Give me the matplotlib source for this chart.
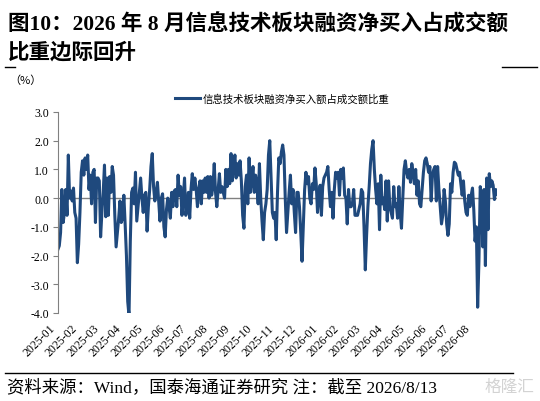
import numpy as np
import matplotlib
matplotlib.use("Agg")
import matplotlib.pyplot as plt
from matplotlib.lines import Line2D

# 信息技术板块融资净买入额占成交额比重 (%)
ratio_2025a = [
    -1.78, -1.66, -1.2, 0.3, -0.85, -0.5, 0.3, -0.6, 1.5, 0.0, 0.25, -0.1, 0.35, -0.5, -0.7,
    -2.25, -1.6, -0.5, 0.9, 1.3, 0.8, 1.4, 1.0, 1.5, 0.3, 0.8, -0.2, 0.9, 1.0, -0.85, 0.7,
    0.7, 0.6, -1.35, -0.5, 0.2, 1.15, -0.65, 0.7, -0.6, 0.75, 0.2, 1.1, 0.8, -0.6, -1.7,
    -1.2, -0.7, -0.1, -0.85, -0.7, 0.1, -0.9, -2.0, -3.6, -4.1, -1.5, 0.2, 0.35, -0.2, 0.9,
    -0.8, -0.3, 0.2, 0.7, 0.0, -0.5, 0.1, 0.2, -1.15, -0.3, 0.3, 1.1, 1.55, 0.4, -0.1, 0.2,
    0.55, -0.1, -0.8, 0.0, 0.15, -1.0, -1.35, -0.4, 0.0, -0.3, -0.7, 0.2, -0.3, 0.25, 0.3,
    -0.3, 0.8, 0.1, 0.4, -0.6, 0.0, 0.7, -0.6, -0.3, 0.2, -0.7, 0.3, 0.85, 0.3, 0.7, 0.3,
    -0.3, 0.3, 0.6, -0.2, 0.6, 0.2, 0.7, 0.2, 0.75, 0.0, 0.75, 0.1, 0.4, 1.2, 0.2, -0.3,
    0.3, 0.85, 0.2, 0.4, 0.2, 0.0, 1.0, 0.4, 1.0, 0.5, 1.55, 0.6, 1.1, 1.5, 0.7, 1.2, 0.8,
    1.3, 0.6, -0.6, -1.05, 0.4, 0.8, -0.2, 1.4, 0.2, 0.6, 1.1, 0.2, 0.8, 0.5, -0.2, 1.2,
    0.0, -0.8, -1.45, -0.5, -0.2, 0.3, 1.5, 2.0, 0.8, -0.5, -0.7,
]
ratio_2025b = [
    -0.5, -1.45, 0.2, 1.4, 1.2, 1.6, 1.85, 1.5, 0.0, -1.2, -0.5, 0.2, 0.8, -0.2, 0.3, -0.5,
    -1.2, 0.2, 0.2, -0.3, -1.2, -2.2, -1.0, 0.3, 0.9, 0.5, 0.75, 0.0, -0.2, 0.5, 0.3, 1.05,
    0.5, -0.5, 0.1, 0.45, -0.6, 0.4, 0.7, 0.8, 0.9, 1.1, 0.3, -0.3, 0.2, -0.7, 0.3, 0.9,
    0.7, 0.9, 0.1, 1.0, 0.7, 1.05, 0.1, 0.0, -0.9, 0.3, -0.3, -0.3, -0.2, 0.3, -0.6, -0.6,
    -0.6, -0.4, -0.2, 0.3, 0.2, -1.0, -2.5, -1.3, -0.3, 0.4, 1.2, 1.7, 2.0, 1.0, 0.3, -0.2,
    0.5, -1.1, 0.8, -0.2, 0.0, -0.4, 0.6, -0.8, 0.6, -0.3, -0.5, -0.7, 0.4, -0.3, -0.2,
    -0.7, 0.4, -0.5, -1.05, 0.0,
]
ratio_2026 = [
    1.0, 1.3, 0.9, 0.7, 1.0, 0.55, 1.2, 0.9, 0.5, 1.0, 0.1, 0.6, -0.2, -0.3, 0.3, 0.9, 1.3,
    1.4, 1.2, 0.9, 1.1, -0.1, 0.8, 1.0, 1.1, -0.1, 1.1, 0.3, -0.3, -0.9, -0.6, 0.3, -0.1,
    -0.9, -1.3, -0.9, 0.5, 0.2, 0.9, 1.25, 1.2, 1.0, 0.8, 0.9, 0.5, 0.1, 0.6, -0.1, -0.5,
    -0.6, 0.1, -0.3, 0.1, 0.35, -0.4, -1.5, -1.0, -3.8, -2.2, 0.4, 0.1, -1.7, 0.3, -2.35,
    0.7, -1.1, 0.85, 0.4, 0.6, 0.45, -0.05, 0.3, 0.15,
]
ratio = ratio_2025a + ratio_2025b + ratio_2026

month_labels = [
    "2025-01", "2025-02", "2025-03", "2025-04", "2025-05", "2025-06", "2025-07",
    "2025-08", "2025-09", "2025-10", "2025-11", "2025-12", "2026-01", "2026-02",
    "2026-03", "2026-04", "2026-05", "2026-06", "2026-07", "2026-08",
]
y_ticks = [-4, -3, -2, -1, 0, 1, 2, 3]

cjk = ["Liberation Serif", "Noto Sans CJK SC"]
blue = "#1f497d"
grey = "#808080"

fig = plt.figure(figsize=(5.4, 4.02), dpi=100)
ax = fig.add_axes([0.1074, 0.219, 0.813, 0.50])

# month ticks are evenly spaced; the series runs a little past the last label
span = 20.1
x = np.linspace(0, span, len(ratio))
line, = ax.plot(x, ratio, color=blue, lw=2.2, solid_joinstyle="round")
ax.axhline(0, color=grey, lw=1, zorder=1)

ax.set_xlim(0, span)
ax.set_ylim(-4, 3)
ax.set_yticks(y_ticks)
ax.set_yticklabels([f"{v:.1f}" for v in y_ticks], fontfamily="Liberation Serif", fontsize=8.5)
ax.set_xticks(range(len(month_labels)))
ax.set_xticklabels(month_labels, rotation=45, ha="right", fontfamily="Liberation Serif",
                   fontsize=8.5)
ax.tick_params(axis="x", length=0, pad=6.5)
ax.tick_params(axis="y", length=3.5, width=0.8, color=grey, pad=3)

for side in ["top", "right", "bottom"]:
    ax.spines[side].set_visible(False)
ax.spines["left"].set_color(grey)
ax.spines["left"].set_linewidth(0.8)

ax.legend([line], ["信息技术板块融资净买入额占成交额比重"], loc="center",
          bbox_to_anchor=(0.511, 1.065), frameon=False, handlelength=2.4,
          handletextpad=0.3, prop={"family": "Noto Sans CJK SC", "size": 7.5})

ax.text(-0.075, 1.16, "（%）", transform=ax.transAxes, fontsize=8,
        fontfamily="Noto Sans CJK SC", va="center", ha="center")

# title
fig.text(0.0148, 0.938, "图10：2026 年 8 月信息技术板块融资净买入占成交额",
         fontsize=15.5, fontweight="bold", family=cjk, va="center", ha="left")
fig.text(0.0148, 0.868, "比重边际回升",
         fontsize=15.5, fontweight="bold", family=cjk, va="center", ha="left")

# short rules under the title and the rule above the source note
fig.add_artist(Line2D([0.009, 0.028], [0.832, 0.832], color="black", lw=1))
fig.add_artist(Line2D([0.930, 0.994], [0.832, 0.832], color="black", lw=1))
fig.add_artist(Line2D([0.009, 0.950], [0.070, 0.070], color="black", lw=1))

fig.text(0.013, 0.036, "资料来源：Wind，国泰海通证券研究 注：截至 2026/8/13",
         fontsize=12.5, family=cjk, va="center", ha="left")
fig.text(0.99, 0.036, "格隆汇", fontsize=12, family=["Noto Sans CJK SC"], color="#c8c8c8",
         alpha=0.8, va="center", ha="right")

fig.savefig("out.png", dpi=100)
